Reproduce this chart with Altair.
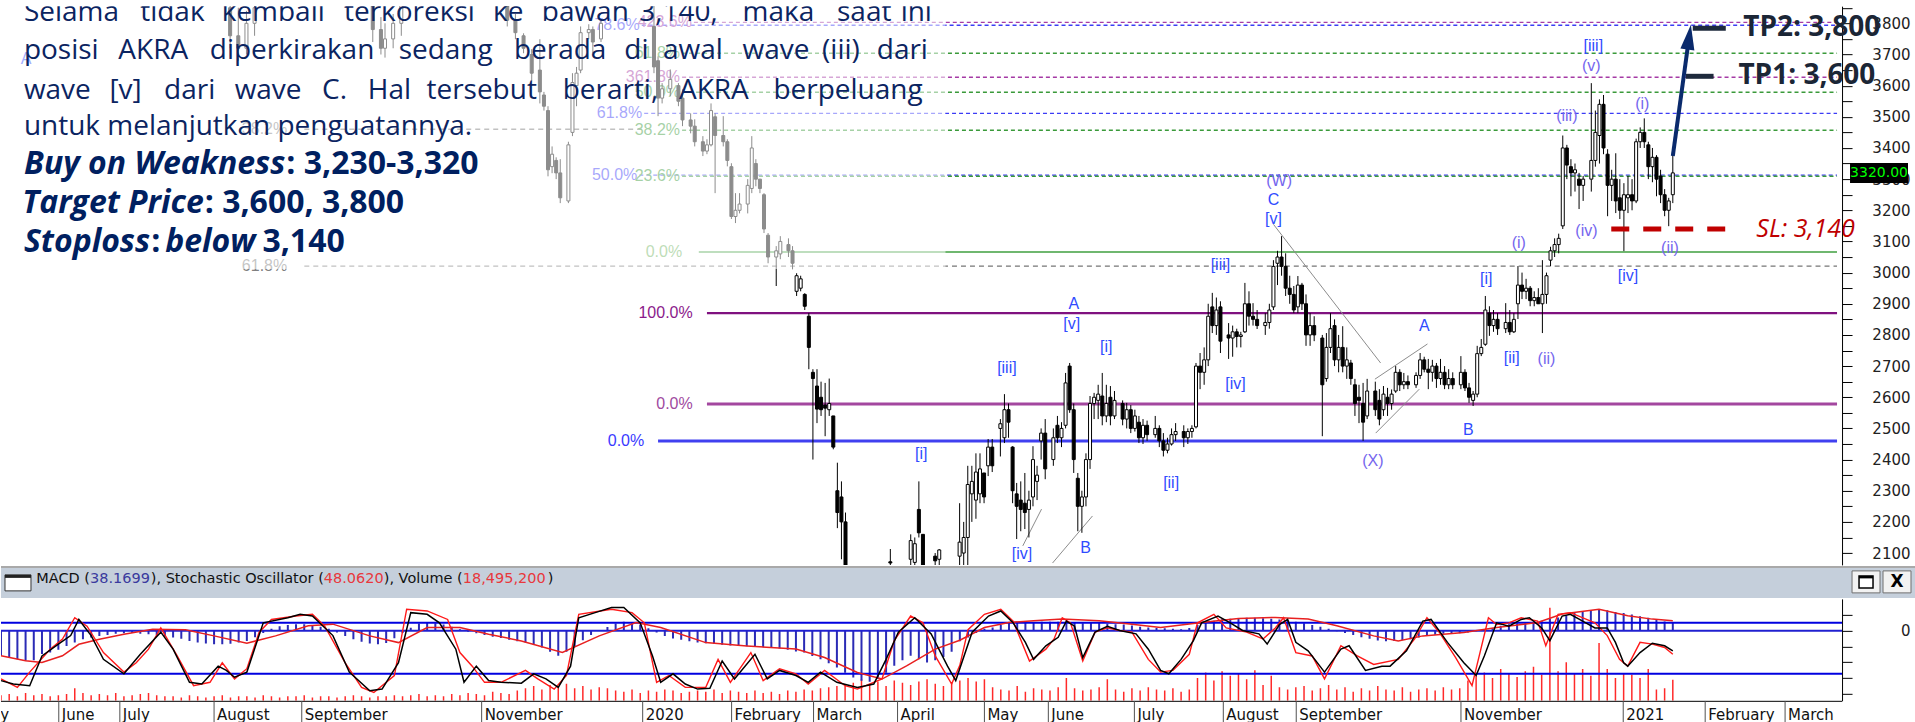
import altair as alt
import pandas as pd

# ---------------- price candles: (trading-day index, open, high, low, close) ----------------
cand_2019 = [
    (55, 3850, 3900, 3720, 3760), (57, 3760, 3850, 3680, 3720), (59, 3720, 3840, 3700, 3800),
    (61, 3800, 3900, 3760, 3850), (90, 3880, 3900, 3740, 3780), (92, 3780, 3820, 3700, 3720),
    (93, 3720, 3800, 3690, 3750), (95, 3750, 3830, 3720, 3800), (97, 3800, 3900, 3760, 3860),
    (123, 3900, 3950, 3790, 3810), (125, 3810, 3830, 3749, 3770), (127, 3760, 3768, 3704, 3720),
    (129, 3700, 3717, 3614, 3640), (131, 3650, 3749, 3543, 3580), (132, 3570, 3580, 3520, 3534),
    (133, 3520, 3534, 3309, 3330), (134, 3340, 3405, 3319, 3380), (135, 3360, 3370, 3300, 3320),
    (136, 3320, 3364, 3223, 3240), (138, 3230, 3420, 3223, 3410), (139, 3450, 3640, 3438, 3610),
    (140, 3600, 3660, 3534, 3640), (141, 3650, 3790, 3640, 3770), (143, 3770, 3797, 3749, 3780),
    (144, 3780, 3790, 3704, 3740), (146, 3750, 3810, 3740, 3800),
]
cand_q1_2020 = [
    (159, 3790, 3870, 3640, 3660), (160, 3680, 3694, 3502, 3560), (161, 3560, 3608, 3543, 3590),
    (163, 3590, 3652, 3566, 3620), (165, 3600, 3608, 3534, 3550), (166, 3560, 3588, 3470, 3490),
    (168, 3490, 3511, 3447, 3470), (169, 3470, 3492, 3405, 3420), (171, 3420, 3438, 3374, 3390),
    (172, 3390, 3428, 3380, 3410), (173, 3410, 3543, 3405, 3520), (174, 3500, 3511, 3255, 3440),
    (176, 3440, 3502, 3405, 3420), (177, 3420, 3428, 3341, 3360), (178, 3340, 3351, 3172, 3180),
    (179, 3180, 3255, 3159, 3200), (180, 3200, 3255, 3190, 3220), (182, 3220, 3300, 3190, 3280),
    (183, 3270, 3438, 3255, 3400), (184, 3350, 3364, 3277, 3300), (185, 3300, 3300, 3255, 3270),
    (186, 3250, 3255, 3127, 3140), (187, 3120, 3127, 3030, 3050), (189, 3050, 3085, 2957, 3070),
    (190, 3060, 3117, 3043, 3100), (192, 3090, 3110, 3050, 3070), (193, 3070, 3085, 3011, 3030),
    (194, 2940, 2998, 2925, 2990), (195, 2950, 2990, 2940, 2980), (196, 2930, 2934, 2880, 2892),
    (197, 2860, 2870, 2690, 2760), (198, 2680, 2690, 2400, 2660), (199, 2636, 2690, 2517, 2562),
    (200, 2600, 2650, 2540, 2560), (201, 2575, 2646, 2475, 2565), (202, 2560, 2660, 2540, 2580),
    (203, 2540, 2540, 2433, 2440), (204, 2300, 2390, 2180, 2230), (205, 2280, 2330, 2080, 2200),
    (206, 2200, 2230, 1950, 2000), (217, 2072, 2113, 2060, 2068),
]
cand_q2_2020 = [
    (222, 2080, 2160, 2030, 2140), (223, 2070, 2150, 2040, 2130), (224, 2240, 2330, 2150, 2165),
    (225, 2160, 2160, 2030, 2050), (228, 2090, 2100, 2050, 2075), (229, 2080, 2113, 2050, 2110),
    (234, 2090, 2260, 2050, 2135), (235, 2100, 2200, 2040, 2150), (236, 2150, 2380, 2060, 2320),
    (237, 2290, 2380, 2200, 2330), (238, 2270, 2420, 2210, 2360), (239, 2290, 2420, 2260, 2370),
    (240, 2357, 2357, 2260, 2280), (241, 2380, 2466, 2347, 2440), (242, 2440, 2466, 2360, 2380),
    (244, 2500, 2530, 2410, 2515), (245, 2470, 2610, 2453, 2560), (246, 2560, 2580, 2470, 2520),
    (247, 2440, 2443, 2260, 2300), (248, 2290, 2325, 2145, 2250), (249, 2270, 2330, 2170, 2240),
    (250, 2260, 2357, 2177, 2230), (251, 2240, 2300, 2150, 2270), (252, 2280, 2443, 2250, 2400),
    (253, 2330, 2380, 2270, 2350), (254, 2460, 2500, 2400, 2485), (255, 2485, 2530, 2337, 2370),
    (257, 2400, 2500, 2380, 2470), (258, 2510, 2540, 2453, 2470), (259, 2470, 2520, 2440, 2500),
    (260, 2510, 2678, 2500, 2646), (261, 2700, 2710, 2550, 2560), (262, 2560, 2580, 2357, 2400),
    (263, 2340, 2357, 2170, 2250), (264, 2250, 2300, 2165, 2280), (265, 2280, 2420, 2250, 2400),
    (266, 2400, 2604, 2370, 2580), (267, 2580, 2614, 2530, 2600), (268, 2590, 2640, 2530, 2610),
    (269, 2604, 2678, 2510, 2540), (270, 2540, 2640, 2520, 2580), (271, 2600, 2636, 2510, 2540),
    (272, 2540, 2620, 2530, 2590), (274, 2580, 2590, 2510, 2530), (275, 2530, 2582, 2500, 2560),
    (276, 2560, 2575, 2485, 2500),
]
cand_q3_2020 = [
    (277, 2500, 2560, 2490, 2540), (278, 2520, 2540, 2453, 2470), (279, 2470, 2530, 2450, 2510),
    (280, 2510, 2525, 2460, 2480), (282, 2480, 2540, 2470, 2500), (283, 2500, 2510, 2440, 2460),
    (284, 2460, 2485, 2410, 2430), (285, 2430, 2470, 2420, 2450), (286, 2450, 2500, 2445, 2480),
    (287, 2480, 2517, 2460, 2490), (289, 2490, 2510, 2440, 2470), (290, 2470, 2500, 2450, 2490),
    (291, 2490, 2510, 2470, 2500), (292, 2505, 2710, 2500, 2700), (293, 2700, 2742, 2626, 2680),
    (294, 2680, 2760, 2640, 2720), (295, 2720, 2900, 2700, 2860), (296, 2890, 2935, 2806, 2830),
    (297, 2830, 2920, 2800, 2880), (298, 2890, 2908, 2742, 2780), (300, 2800, 2838, 2723, 2790),
    (301, 2790, 2830, 2730, 2810), (302, 2810, 2820, 2760, 2795), (303, 2795, 2810, 2760, 2800),
    (304, 2810, 2967, 2806, 2900), (305, 2900, 2940, 2830, 2860), (306, 2860, 2902, 2830, 2850),
    (307, 2850, 2880, 2819, 2830), (309, 2830, 2870, 2800, 2840), (310, 2840, 2900, 2820, 2880),
    (311, 2890, 3040, 2880, 3020), (312, 3030, 3070, 2960, 3050), (313, 3050, 3117, 2990, 3020),
    (314, 3020, 3062, 2925, 2950), (315, 2950, 2990, 2900, 2930), (316, 2930, 2957, 2870, 2880),
    (317, 2890, 2989, 2870, 2960), (318, 2960, 2967, 2880, 2900), (319, 2900, 2930, 2765, 2800),
    (320, 2800, 2870, 2765, 2830), (321, 2830, 2860, 2780, 2800), (323, 2790, 2800, 2475, 2640),
    (324, 2660, 2806, 2650, 2760), (325, 2760, 2870, 2742, 2820), (326, 2830, 2850, 2700, 2720),
    (327, 2720, 2800, 2680, 2760), (328, 2760, 2828, 2680, 2700), (329, 2700, 2760, 2659, 2720),
    (330, 2710, 2720, 2640, 2660), (331, 2640, 2659, 2540, 2580), (332, 2600, 2640, 2517, 2590),
    (333, 2580, 2646, 2460, 2520), (334, 2540, 2659, 2530, 2620), (336, 2620, 2650, 2540, 2560),
    (337, 2590, 2626, 2510, 2530),
]
cand_q4_2020 = [
    (338, 2560, 2636, 2540, 2610), (339, 2600, 2630, 2540, 2580), (340, 2580, 2625, 2560, 2610),
    (341, 2620, 2700, 2614, 2680), (342, 2680, 2690, 2620, 2640), (343, 2640, 2678, 2626, 2650),
    (344, 2650, 2670, 2626, 2640), (346, 2640, 2680, 2630, 2670), (347, 2670, 2742, 2659, 2720),
    (348, 2720, 2730, 2680, 2690), (349, 2690, 2723, 2626, 2680), (350, 2680, 2720, 2650, 2700),
    (351, 2700, 2710, 2630, 2660), (352, 2660, 2723, 2640, 2680), (353, 2680, 2700, 2626, 2640),
    (354, 2640, 2690, 2626, 2660), (355, 2660, 2680, 2626, 2640), (357, 2640, 2732, 2626, 2680),
    (358, 2680, 2690, 2620, 2630), (359, 2630, 2646, 2582, 2600), (360, 2590, 2620, 2572, 2610),
    (361, 2610, 2765, 2600, 2740), (362, 2740, 2787, 2732, 2760), (363, 2770, 2925, 2765, 2880),
    (364, 2870, 2892, 2797, 2830), (365, 2830, 2880, 2810, 2850), (366, 2850, 2870, 2800, 2820),
    (368, 2820, 2902, 2806, 2840), (369, 2840, 2880, 2800, 2810), (370, 2810, 2870, 2806, 2850),
    (371, 2900, 3021, 2851, 2960), (372, 2960, 3000, 2915, 2940), (373, 2940, 2980, 2915, 2950),
    (374, 2950, 2957, 2892, 2910), (375, 2910, 2940, 2892, 2920), (376, 2920, 2950, 2900, 2900),
    (377, 2900, 3040, 2806, 2930), (378, 2930, 3000, 2900, 2990), (379, 3040, 3083, 3021, 3070),
    (380, 3070, 3110, 3050, 3090), (381, 3090, 3125, 3062, 3110), (382, 3150, 3440, 3140, 3400),
    (383, 3400, 3410, 3300, 3345), (384, 3340, 3364, 3245, 3320), (385, 3320, 3350, 3260, 3330),
    (386, 3300, 3320, 3204, 3280), (387, 3280, 3310, 3230, 3300), (389, 3300, 3608, 3260, 3360),
    (390, 3360, 3520, 3340, 3450), (391, 3440, 3556, 3350, 3540), (392, 3540, 3570, 3380, 3400),
    (393, 3380, 3396, 3181, 3280), (394, 3280, 3330, 3230, 3300), (395, 3300, 3383, 3191, 3230),
    (396, 3240, 3300, 3172, 3200),
]
cand_2021 = [
    (397, 3200, 3287, 3069, 3250), (398, 3240, 3310, 3191, 3250), (399, 3250, 3300, 3200, 3230),
    (400, 3230, 3430, 3223, 3420), (401, 3420, 3466, 3400, 3450), (402, 3450, 3495, 3400, 3420),
    (403, 3410, 3420, 3300, 3340), (404, 3340, 3400, 3290, 3370), (405, 3370, 3377, 3245, 3300),
    (406, 3310, 3330, 3223, 3250), (407, 3250, 3268, 3181, 3200), (408, 3200, 3240, 3149, 3230),
    (409, 3250, 3377, 3223, 3320),
]

# ---------------- Fibonacci levels ----------------
dot_price = [3803, 3794, 3704, 3627, 3579, 3511, 3457, 3313, 3309]
dot_start = [168.8, 156.0, 165.9, 165.9, 165.9, 156.6, 165.9, 155.4, 165.9]
dot_kind = ["ext", "ret", "prj", "ext", "prj", "ret", "prj", "ret", "prj"]
dot_label = ["423.6%", "78.6%", "61.8%", "361.8%", "50.0%", "61.8%", "38.2%", "50.0%", "23.6%"]

sol_price = [3066, 2870, 2578, 2460]
sol_start = [170.0, 172.0, 172.0, 160.0]
sol_label = ["0.0%", "100.0%", "0.0%", "0.0%"]
sol_label_day = [165.9, 168.5, 168.5, 156.6]

gry_price = [3460, 3021]
gry_start = [73.2, 73.2]
gry_end = [156.0, 449.3]
gry_label = ["38.2%", "61.8%"]
gry_label_day = [69.0, 69.0]

# ---------------- Elliott wave labels ----------------
wl_text = ["A", "(W)", "C", "[v]", "[iii]", "[iv]", "[i]", "[ii]", "(X)", "A", "B", "A", "[v]",
           "[iii]", "[i]", "[iv]", "B", "(i)", "[i]", "[ii]", "(ii)", "(iii)", "(iv)", "[iv]",
           "(i)", "(ii)", "(v)", "[iii]"]
wl_day = [4.9, 312.4, 311.0, 311.0, 298.0, 301.7, 270.0, 285.9, 335.4, 348.0, 358.8, 262.0, 261.5,
          245.6, 224.6, 249.3, 264.9, 371.2, 363.2, 369.5, 378.0, 383.0, 387.8, 398.0,
          401.5, 408.3, 389.0, 389.5]
wl_price = [3685, 3293, 3232, 3171, 3024, 2642, 2761, 2325, 2395, 2828, 2495, 2899, 2835,
            2694, 2418, 2097, 2116, 3094, 2979, 2726, 2722, 3502, 3133, 2989,
            3540, 3078, 3662, 3726]

# trend / channel lines (day, price) -> (day, price)
tl_d1 = [311.0, 335.9, 336.1, 249.5, 256.8]
tl_p1 = [3155, 2658, 2485, 2123, 2068]
tl_d2 = [337.3, 348.8, 346.8, 254.1, 266.6]
tl_p2 = [2710, 2771, 2626, 2241, 2219]

# ---------------- targets / stop ----------------
tp_text = ["TP2: 3,800", "TP1: 3,600"]
tp_price = [3784, 3630]
tp_bar_start = [413.9, 412.2]
tp_bar_end = [422.0, 419.0]
tp_text_day = [426.3, 425.1]
sl_price = [3140]
sl_start = [393.9]
sl_end = [425.1]
sl_text_day = [429.5]
arrow_day = [409.0, 412.9]
arrow_price = [3374, 3746]
last_close = 3320

# ---------------- month axis ----------------
m_label = ["May", "June", "July", "August", "September", "November", "2020", "February", "March",
           "April", "May", "June", "July", "August", "September", "November", "2021", "February",
           "March"]
m_day = [-6.3, 14.1, 29.0, 52.0, 73.4, 117.3, 156.6, 178.3, 198.3, 218.8, 240.0, 255.6, 276.6,
         298.3, 316.1, 356.3, 395.9, 415.9, 435.4]

# ---------------- indicators ----------------
k_day = [0, 3, 7, 10, 14, 17, 19, 22, 25, 30, 34, 39, 42, 46, 49, 53, 55, 57, 60, 64, 70, 73, 76, 81,
         85, 90, 93, 97, 100, 104, 107, 111, 113, 116, 119, 122, 127, 130, 133, 136, 139, 141, 145,
         149, 152, 156, 159, 161, 164, 167, 170, 173, 176, 179, 184, 187, 190, 194, 197, 200, 204,
         209, 213, 216, 219, 223, 227, 231, 233, 237, 241, 244, 247, 250, 252, 255, 258, 260, 262,
         264, 267, 270, 273, 277, 280, 283, 285, 288, 291, 293, 297, 300, 303, 307, 309, 312, 314,
         316, 319, 323, 327, 329, 333, 337, 339, 343, 347, 349, 353, 357, 360, 362, 365, 368, 371,
         373, 376, 378, 381, 383, 386, 389, 392, 394, 396, 397, 400, 403, 406, 408]
k_val = [12, 8, 6, 41, 55, 65, 84, 65, 37, 20, 43, 69, 49, 10, 8, 29, 24, 16, 22, 80, 86, 90, 88, 65,
         22, 0, 2, 33, 92, 90, 80, 49, 10, 29, 12, 10, 9, 20, 14, 4, 29, 86, 92, 98, 98, 80, 41, 10,
         20, 8, 2, 3, 35, 14, 43, 14, 24, 18, 10, 22, 10, 4, 8, 37, 69, 86, 67, 29, 12, 69, 88, 94,
         80, 57, 37, 53, 63, 82, 76, 39, 69, 76, 71, 67, 49, 24, 20, 37, 59, 80, 88, 80, 71, 67, 55,
         78, 84, 57, 47, 22, 49, 53, 24, 29, 29, 47, 82, 84, 57, 33, 18, 41, 80, 76, 84, 86, 74, 59,
         88, 90, 82, 74, 74, 57, 33, 29, 45, 56, 53, 47]
d_day = [0, 4, 7, 12, 15, 18, 21, 25, 30, 33, 36, 39, 43, 47, 51, 54, 57, 60, 63, 66, 72, 76, 79, 84,
         88, 91, 96, 99, 104, 109, 112, 115, 118, 122, 128, 131, 135, 138, 141, 149, 154, 157, 160,
         163, 167, 172, 175, 178, 183, 186, 190, 194, 197, 201, 206, 209, 215, 218, 222, 225, 228,
         232, 234, 236, 240, 244, 247, 251, 255, 257, 259, 261, 264, 267, 270, 273, 276, 280, 283,
         286, 290, 292, 296, 299, 304, 308, 311, 313, 316, 320, 323, 327, 331, 335, 341, 345, 348,
         351, 355, 359, 363, 365, 368, 371, 375, 377, 380, 383, 389, 392, 395, 397, 400, 403, 406,
         408]
d_val = [14, 4, 22, 49, 61, 86, 76, 45, 22, 33, 49, 74, 41, 6, 10, 33, 14, 26, 69, 84, 88, 90, 76,
         33, 4, -2, 18, 96, 94, 84, 45, 29, 10, 10, 24, 14, 2, 18, 90, 96, 92, 80, 10, 18, 4, 4, 37,
         10, 45, 12, 26, 20, 8, 24, 6, 2, 14, 59, 88, 80, 41, 8, 30, 72, 90, 96, 82, 35, 49, 61, 86,
         80, 35, 69, 74, 71, 69, 37, 22, 24, 43, 80, 90, 74, 69, 61, 74, 86, 45, 41, 14, 53, 41, 31,
         37, 61, 86, 69, 39, 6, 86, 78, 80, 86, 82, 53, 90, 92, 80, 65, 37, 29, 57, 55, 51, 43]
sig_day = [0, 6, 10, 15, 19, 24, 30, 37, 45, 52, 60, 67, 75, 81, 90, 97, 104, 112, 119, 127, 137,
           146, 155, 161, 172, 182, 194, 201, 209, 215, 221, 228, 234, 240, 246, 252, 259, 268,
           276, 283, 293, 302, 311, 319, 326, 335, 341, 347, 357, 365, 375, 381, 390, 397, 403, 408]
sig_val = [-119, -143, -151, -119, -64, -40, -16, 8, 5, -24, -59, -24, 24, 32, -24, -56, 16, 16, -16,
           -48, -103, -24, 40, 16, -56, -72, -87, -127, -199, -230, -167, -87, -45, 16, 40, 48, 56,
           48, 32, 16, 40, 59, 64, 56, 24, -24, -48, -24, -8, 16, 40, 80, 103, 72, 56, 48]
# MACD histogram, one bar every second trading day from day 0
macd_hist = [-119, -125, -135, -143, -140, -110, -103, -90, -72, -55, -40, -32,
             -24, -20, -14, -11, -10, -14, -16, -20, -26, -32, -38, -48, -56, -60, -64,
             -64, -62, -55, -48, -30, -10, 10, 22, 28, 32, 32, 26, 20, 10, -8, -25, -40, -52,
             -60, -64, -58, -35, -10, 15, 35, 40, 36, 30, 20, 8, -4, -12, -20, -28, -34, -42,
             -50, -56, -66, -80, -100, -119, -100, -72, -45, -20, 0, 18, 35, 43, 40, 30, 12, -8,
             -25, -36, -42, -50, -56, -59, -62, -66, -70, -72, -74, -76, -78, -80, -84,
             -90, -98, -103, -120, -135, -155, -175, -200, -222, -238, -243, -230,
             -200, -167, -140, -119, -135, -151, -140, -125, -100, -50, -32, -10, 10, 16, 28,
             38, 40, 42, 42, 43, 43, 44, 42, 40, 36, 38, 40, 34, 32, 30, 26, 20, 16, 14, 12, 10,
             8, 14, 28, 40, 48, 55, 58, 60, 62, 62, 60, 58, 54, 50, 44, 36, 28, 20, 10, -2, -10,
             -20, -30, -38, -46, -50, -48, -44, -40, -32, -24, -18, -14, -12, -11, -8, -2, 5, 14,
             24, 32, 36, 40, 42, 48, 56, 64, 75, 85, 95, 100, 103, 98, 90, 85, 78, 70, 62, 52, 45,
             40]
# volume (millions of shares), one bar every second trading day from day 0
volume_m = [5, 6, 4, 7, 5, 6, 4, 5, 6, 11, 7, 5, 6, 5, 7, 4, 5, 6, 7, 5, 4,
            4, 3, 5, 4, 3, 4, 5, 3, 4, 4, 3, 5, 4, 3, 4, 4, 5, 3, 4, 4, 3, 4, 5, 4, 3, 4, 4,
            5, 4, 5, 6, 4, 5, 4, 6, 5, 7, 6, 5, 8, 7, 6,
            9, 11, 13, 10, 14, 12, 15, 11, 13, 10, 12, 11, 9,
            8, 10, 7, 9, 8, 10, 9, 7, 8, 9, 8, 10, 7, 9, 8, 7, 9,
            7, 8, 6, 9, 8, 10, 9, 11, 12, 13,
            14, 16, 19, 15, 17, 13, 18, 16, 14, 17, 19, 15, 13, 16,
            18, 20, 17, 19, 12, 10, 9, 13, 8, 11, 10, 9, 12, 20, 11, 9, 10, 12, 19,
            10, 8, 11, 9, 12, 10, 9, 11, 8, 10, 20, 25, 18, 26, 22, 24, 19, 27, 14, 22, 12,
            10, 12, 13, 9, 11, 14, 10, 12, 8, 11, 9, 13, 10, 9, 12, 8, 10, 11, 9, 12, 10, 11,
            18, 22, 25, 20, 28, 24, 21, 26, 30, 23, 82, 26, 34, 24, 28, 22, 51, 28, 20, 24, 23,
            20, 28, 10, 11, 18.5]
legend_macd, legend_stoch, legend_vol = "38.1699", "48.0620", "18,495,200"

# ======================================================================
W, H_MAIN, H_BAR, H_IND, H_MON, FULL_W = 1842, 559, 34, 102, 27, 1915
DAY_MAX = 449.3
P_LO, P_HI = 2062, 3855
xs = alt.Scale(domain=[0, DAY_MAX], nice=False, zero=False)
ys = alt.Scale(domain=[P_LO, P_HI], nice=False, zero=False)
one = pd.DataFrame({"a": [0]})


def day_of(px):
    return px * DAY_MAX / W


def price_of(py):
    return P_HI - py * (P_HI - P_LO) / H_MAIN


YAX = alt.Axis(orient="right", values=list(range(2100, 3851, 50)),
               labelExpr="datum.value % 100 == 0 ? datum.value : ''", tickSize=10,
               tickColor="black", domainColor="black", labelColor="#222", labelFont="DejaVu Sans",
               labelFontSize=15, labelAlign="right", labelPadding=58, grid=False, title=None,
               labelBaseline="middle", labelOverlap=False, labelFlush=False)


def X(field="day"):
    return alt.X(f"{field}:Q", scale=xs, axis=None)


def Y(field="price"):
    return alt.Y(f"{field}:Q", scale=ys, axis=YAX)


cand = pd.DataFrame(cand_2019 + cand_q1_2020 + cand_q2_2020 + cand_q3_2020 + cand_q4_2020 + cand_2021,
                    columns=["day", "o", "h", "l", "c"])
cand["fill"] = ["white" if c >= o else "black" for o, c in zip(cand.o, cand.c)]

dots = pd.DataFrame({"price": dot_price, "day": dot_start, "end": DAY_MAX, "kind": dot_kind,
                     "t": dot_label, "lday": [d - 0.5 for d in dot_start]})
kind_line = alt.Scale(domain=["ext", "ret", "prj"], range=["#a53aa5", "#3c3cf5", "#3a9a3a"])
kind_text = alt.Scale(domain=["ext", "ret", "prj"], range=["#b04ab0", "#5a5af5", "#4c9c3c"])

layers = []
layers.append(alt.Chart(dots).mark_rule(strokeDash=[4, 3], strokeWidth=1.4).encode(
    x=X(), x2="end:Q", y=Y(), color=alt.Color("kind:N", scale=kind_line, legend=None)))
gry = pd.DataFrame({"price": gry_price, "day": gry_start, "end": gry_end, "t": gry_label,
                    "lday": gry_label_day})
layers.append(alt.Chart(gry).mark_rule(strokeDash=[5, 4], strokeWidth=1.3, color="#767676").encode(
    x=X(), x2="end:Q", y=Y()))
sol_colors = ["#3f9f3f", "#7f117f", "#a3479f", "#4040f0"]
sol_widths = [1.6, 2.2, 3, 3]
sol_text_colors = ["#6fb35f", "#8b1a8b", "#a04aa0", "#3a3aff"]
for i in range(len(sol_price)):
    d = pd.DataFrame({"price": [sol_price[i]], "day": [sol_start[i]], "end": [DAY_MAX],
                      "t": [sol_label[i]], "lday": [sol_label_day[i]]})
    layers.append(alt.Chart(d).mark_rule(color=sol_colors[i], strokeWidth=sol_widths[i]).encode(
        x=X(), x2="end:Q", y=Y()))
    layers.append(alt.Chart(d).mark_text(align="right", baseline="middle", font="Liberation Sans",
                                         fontSize=16, color=sol_text_colors[i]).encode(
        x=X("lday"), y=Y(), text="t:N"))
layers.append(alt.Chart(dots).mark_text(align="right", baseline="middle", font="Liberation Sans",
                                        fontSize=16).encode(
    x=X("lday"), y=Y(), text="t:N", color=alt.Color("kind:N", scale=kind_text, legend=None)))
layers.append(alt.Chart(gry).mark_text(align="right", baseline="middle", font="Liberation Sans",
                                       fontSize=16, color="#808080").encode(
    x=X("lday"), y=Y(), text="t:N"))

tl = pd.DataFrame({"day": tl_d1, "price": tl_p1, "d2": tl_d2, "p2": tl_p2})
layers.append(alt.Chart(tl).mark_rule(color="#8c8c8c", strokeWidth=1, clip=True).encode(
    x=X(), y=Y(), x2="d2:Q", y2="p2:Q"))

layers.append(alt.Chart(cand).mark_rule(color="black", strokeWidth=1, clip=True).encode(
    x=X(), y=Y("l"), y2="h:Q"))
layers.append(alt.Chart(cand).mark_bar(size=3, stroke="black", strokeWidth=1, clip=True).encode(
    x=X(), y=Y("o"), y2="c:Q", fill=alt.Fill("fill:N", scale=None)))

wl = pd.DataFrame({"t": wl_text, "day": wl_day, "price": wl_price})
wl["col"] = ["#7566ee" if t.startswith("(") else "#2f4bff" for t in wl_text]
layers.append(alt.Chart(wl).mark_text(align="center", baseline="middle", font="Liberation Sans",
                                      fontSize=16).encode(
    x=X(), y=Y(), text="t:N", color=alt.Color("col:N", scale=None)))

# translucent panel behind the commentary text
layers.append(alt.Chart(one).mark_rect(fill="white", opacity=0.55).encode(
    x=alt.value(0), x2=alt.value(945), y=alt.value(0), y2=alt.value(263)))

# commentary text (positions in the chart's own day / price coordinates)
para = [
    (15, ["Selama", "tidak", "kembali", "terkoreksi", "ke", "bawah", "3,140,", "maka", "saat", "ini"],
     [18, 135, 217, 340, 490, 539, 637, 741, 836, 900]),
    (53, ["posisi", "AKRA", "diperkirakan", "sedang", "berada", "di", "awal", "wave", "(iii)", "dari"],
     [18, 113, 205, 395, 511, 622, 661, 741, 821, 876]),
    (93, ["wave", "[v]", "dari", "wave", "C.", "Hal", "tersebut", "berarti,", "AKRA", "berpeluang"],
     [18, 104, 159, 230, 318, 364, 423, 560, 677, 772]),
]
reg_rows = []
for base, words, xs_px in para:
    for w, px in zip(words, xs_px):
        reg_rows.append({"t": w, "day": day_of(px), "price": price_of(base)})
reg_rows.append({"t": "untuk melanjutkan penguatannya.", "day": day_of(18), "price": price_of(129)})
# bold-italic words end where the upright part starts
bi_right_rows = [
    {"t": "Buy on Weakness", "day": day_of(281), "price": price_of(168)},
    {"t": "Target Price", "day": day_of(199), "price": price_of(207)},
    {"t": "Stoploss", "day": day_of(145), "price": price_of(246)},
    {"t": "below", "day": day_of(251), "price": price_of(246)},
]
bold_rows = [
    {"t": ": 3,230-3,320", "day": day_of(282), "price": price_of(168)},
    {"t": ": 3,600, 3,800", "day": day_of(200), "price": price_of(207)},
    {"t": ":", "day": day_of(146), "price": price_of(246)},
    {"t": "3,140", "day": day_of(258), "price": price_of(246)},
]
TXT = "#0b2461"
layers.append(alt.Chart(pd.DataFrame(reg_rows)).mark_text(
    align="left", baseline="alphabetic", font="Open Sans", fontSize=28, color=TXT, clip=True).encode(
    x=X(), y=Y(), text="t:N"))
layers.append(alt.Chart(pd.DataFrame(bold_rows)).mark_text(
    align="left", baseline="alphabetic", font="Open Sans", fontSize=32, fontWeight="bold",
    color="#002060", clip=True).encode(x=X(), y=Y(), text="t:N"))
layers.append(alt.Chart(pd.DataFrame(bi_right_rows)).mark_text(
    align="right", baseline="alphabetic", font="Open Sans", fontSize=32, fontWeight="bold",
    fontStyle="italic", color="#002060", clip=True).encode(x=X(), y=Y(), text="t:N"))

# stop loss
sl = pd.DataFrame({"price": sl_price, "day": sl_start, "end": sl_end, "td": sl_text_day,
                   "t": ["SL: 3,140"]})
layers.append(alt.Chart(sl).mark_rule(color="#c00000", strokeWidth=5, strokeDash=[18, 14]).encode(
    x=X(), x2="end:Q", y=Y()))
layers.append(alt.Chart(sl).mark_text(align="left", baseline="middle", font="Open Sans", fontSize=25,
                                      fontStyle="italic", color="#c00000").encode(
    x=X("td"), y=Y(), text="t:N"))
# targets
tp = pd.DataFrame({"price": tp_price, "day": tp_bar_start, "end": tp_bar_end, "td": tp_text_day,
                   "t": tp_text})
layers.append(alt.Chart(tp).mark_rule(color="#1e2a3c", strokeWidth=5).encode(
    x=X(), x2="end:Q", y=Y()))
layers.append(alt.Chart(tp).mark_text(align="left", baseline="middle", font="Open Sans", fontSize=28,
                                      fontWeight="bold", color="#1b2636").encode(
    x=X("td"), y=Y(), text="t:N"))
arr = pd.DataFrame({"day": [arrow_day[0]], "price": [arrow_price[0]],
                    "d2": [arrow_day[1]], "p2": [arrow_price[1]]})
layers.append(alt.Chart(arr).mark_rule(color="#0a2a6c", strokeWidth=4).encode(
    x=X(), y=Y(), x2="d2:Q", y2="p2:Q"))
head = pd.DataFrame({"day": [arrow_day[1]], "price": [arrow_price[1]]})
layers.append(alt.Chart(head).mark_point(shape="M0,-1L0.45,0.6L-0.45,0.6Z", size=980, angle=8,
                                         filled=True, color="#0a2a6c", opacity=1).encode(
    x=X(), y=Y()))
# last price tag on the axis
py_last = (P_HI - last_close) / (P_HI - P_LO) * H_MAIN
layers.append(alt.Chart(one).mark_rect(color="black").encode(
    x=alt.value(1850), x2=alt.value(1908), y=alt.value(py_last - 10), y2=alt.value(py_last + 10)))
layers.append(alt.Chart(one).mark_text(font="DejaVu Sans", fontSize=14, color="#00ff00",
                                       align="center", baseline="middle",
                                       text=f"{last_close:.2f}").encode(
    x=alt.value(1879), y=alt.value(py_last)))

main = alt.layer(*layers).properties(width=W, height=H_MAIN)

# ---------------- indicator title bar ----------------
seg_left = pd.DataFrame({
    "t": [legend_macd, legend_stoch, legend_vol, ")"],
    "x": [89, 323, 462, 547],
    "col": ["#3a3a9e", "#e8383d", "#e8383d", "#111"],
})
seg_right = pd.DataFrame({
    "t": ["MACD (", "), Stochastic Oscillator (", "), Volume ("],
    "x": [89, 323, 462],
})
bar = alt.layer(
    alt.Chart(one).mark_rect(color="#a9a9a9").encode(
        x=alt.value(0), x2=alt.value(FULL_W), y=alt.value(1), y2=alt.value(3)),
    alt.Chart(one).mark_rect(color="#c5cfdb").encode(
        x=alt.value(0), x2=alt.value(FULL_W), y=alt.value(3), y2=alt.value(33)),
    alt.Chart(one).mark_rect(fill="white", stroke="#333", strokeWidth=1).encode(
        x=alt.value(4), x2=alt.value(30), y=alt.value(10), y2=alt.value(26)),
    alt.Chart(one).mark_rect(color="#222").encode(
        x=alt.value(4), x2=alt.value(30), y=alt.value(10), y2=alt.value(13)),
    alt.Chart(seg_right).mark_text(align="right", baseline="middle", font="DejaVu Sans",
                                   fontSize=14.5, color="#111").encode(
        x=alt.X("x:Q", scale=None, axis=None), y=alt.value(14), text="t:N"),
    alt.Chart(seg_left).mark_text(align="left", baseline="middle", font="DejaVu Sans",
                                  fontSize=14.5).encode(
        x=alt.X("x:Q", scale=None, axis=None), y=alt.value(14), text="t:N",
        color=alt.Color("col:N", scale=None)),
    alt.Chart(one).mark_rect(fill="#f2f2f2", stroke="#6f6f6f", strokeWidth=1).encode(
        x=alt.value(1852), x2=alt.value(1880), y=alt.value(6), y2=alt.value(28)),
    alt.Chart(one).mark_rect(fill="#f2f2f2", stroke="#6f6f6f", strokeWidth=1).encode(
        x=alt.value(1883), x2=alt.value(1911), y=alt.value(6), y2=alt.value(28)),
    alt.Chart(one).mark_rect(fill="white", stroke="black", strokeWidth=1.5).encode(
        x=alt.value(1859), x2=alt.value(1873), y=alt.value(11), y2=alt.value(23)),
    alt.Chart(one).mark_rect(color="black").encode(
        x=alt.value(1859), x2=alt.value(1873), y=alt.value(11), y2=alt.value(13.5)),
    alt.Chart(one).mark_text(text="X", font="DejaVu Sans", fontSize=17, fontWeight="bold",
                             color="black", align="center", baseline="middle").encode(
        x=alt.value(1897), y=alt.value(17.5)),
).properties(width=FULL_W, height=H_BAR)

# ---------------- indicator panel ----------------
s_stoch = alt.Scale(domain=[-11.8, 108.2], nice=False, zero=False)
s_macd = alt.Scale(domain=[-333.9, 152.6], nice=False, zero=False)
s_vol = alt.Scale(domain=[0, 89.8], nice=False, zero=False)
MAX = alt.Axis(orient="right", values=[75, 0, -75, -150, -225, -300],
               labelExpr="datum.value == 0 ? '0' : ''", tickSize=10, tickColor="black",
               domainColor="black", labelColor="#222", labelFont="DejaVu Sans", labelFontSize=15,
               labelAlign="right", labelPadding=58, grid=False, title=None, labelBaseline="middle")

hist = pd.DataFrame({"day": [2 * i for i in range(len(macd_hist))], "v": macd_hist, "z": 0})
vol = pd.DataFrame({"day": [2 * i for i in range(len(volume_m))], "v": volume_m, "z": 0})
kd = pd.DataFrame({"day": k_day, "v": k_val})
dd = pd.DataFrame({"day": d_day, "v": d_val})
sg = pd.DataFrame({"day": sig_day, "v": sig_val})

ind = alt.layer(
    alt.Chart(vol).mark_rule(color="#ff2a2a", strokeWidth=1.5, clip=True).encode(
        x=X(), y=alt.Y("z:Q", scale=s_vol, axis=None), y2="v:Q"),
    alt.Chart(hist).mark_rule(color="#2b2bb5", strokeWidth=2, clip=True).encode(
        x=X(), y=alt.Y("z:Q", scale=s_macd, axis=MAX), y2="v:Q"),
    alt.Chart(pd.DataFrame({"v": [80, 20]})).mark_rule(color="#0000e0", strokeWidth=2).encode(
        x=alt.value(0), x2=alt.value(W), y=alt.Y("v:Q", scale=s_stoch, axis=None)),
    alt.Chart(pd.DataFrame({"v": [0]})).mark_rule(color="#2020d0", strokeWidth=2).encode(
        x=alt.value(0), x2=alt.value(W), y=alt.Y("v:Q", scale=s_macd, axis=None)),
    alt.Chart(sg).mark_line(color="#e82020", strokeWidth=1.5, clip=True).encode(
        x=X(), y=alt.Y("v:Q", scale=s_macd, axis=None)),
    alt.Chart(dd).mark_line(color="#ff1a1a", strokeWidth=1.4, clip=True).encode(
        x=X(), y=alt.Y("v:Q", scale=s_stoch, axis=None)),
    alt.Chart(kd).mark_line(color="black", strokeWidth=1.5, clip=True).encode(
        x=X(), y=alt.Y("v:Q", scale=s_stoch, axis=None)),
).resolve_scale(y="independent").properties(width=W, height=H_IND)

# ---------------- month strip ----------------
mon = pd.DataFrame({"m": m_label, "day": m_day})
months = alt.layer(
    alt.Chart(one).mark_rule(color="black", strokeWidth=1).encode(
        x=alt.value(0), x2=alt.value(W), y=alt.value(0.5)),
    alt.Chart(mon).mark_rule(color="#505050", strokeWidth=1, clip=True).encode(
        x=X(), y=alt.value(0), y2=alt.value(23)),
    alt.Chart(mon).mark_text(align="left", baseline="middle", dx=3, font="DejaVu Sans", fontSize=15,
                             color="#111", clip=True).encode(
        x=X(), y=alt.value(14), text="m:N"),
).properties(width=W, height=H_MON)

chart = alt.vconcat(main, bar, ind, months, spacing=0).properties(
    padding=0, background="white").configure_view(stroke=None)

chart.save("out.html", embed_options={"renderer": "svg", "actions": False})
